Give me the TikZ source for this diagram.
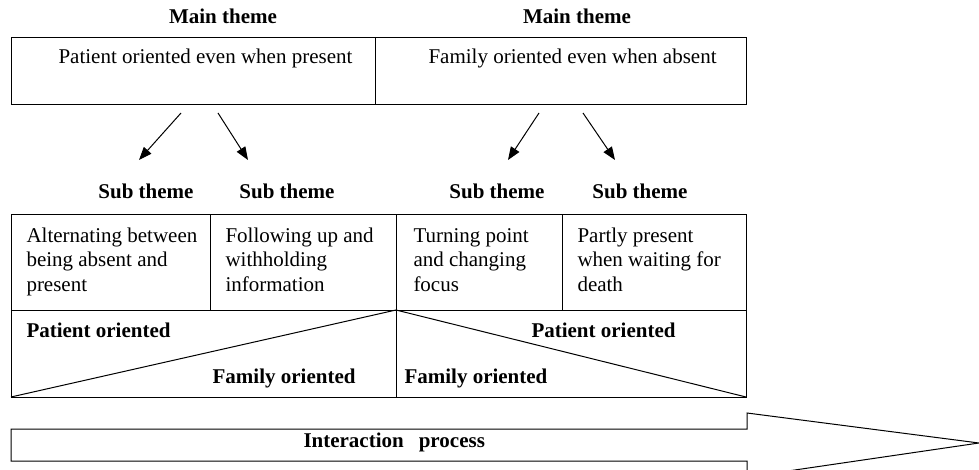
\documentclass[tikz,border=0pt]{standalone}
\usepackage{fontspec}
\setmainfont{Liberation Serif}
\usetikzlibrary{arrows.meta}
\begin{document}
\begin{tikzpicture}[x=1pt,y=-1pt,line width=1pt,
  txt/.style={inner sep=0pt,font=\fontsize{21}{24.5}\selectfont},
  btxt/.style={inner sep=0pt,font=\fontsize{21}{24.5}\selectfont\bfseries},
  cell/.style={inner sep=0pt,align=left,font=\fontsize{21}{24.5}\selectfont},
  arr/.style={-{Triangle[length=13pt,width=10pt]},line width=1pt}]
\clip (0,0) rectangle (979,470);
\fill[white] (0,0) rectangle (979,470);
% main themes
\node[btxt,anchor=base] (mt1) at (223,24) {Main theme};
\node[btxt,anchor=base] (mt2) at (577,24) {Main theme};
\draw (11,38) rectangle (746,105);
\draw (375,38) -- (375,105);
\node[txt,anchor=base west] (m1) at (58,64) {Patient oriented even when present};
\node[txt,anchor=base west] (m2) at (428,64) {Family oriented even when absent};
% arrows
\coordinate (a1s) at (181,113); \coordinate (a1e) at (139,160);
\coordinate (a2s) at (218,113); \coordinate (a2e) at (248,160);
\coordinate (a3s) at (539,113); \coordinate (a3e) at (508,160);
\coordinate (a4s) at (583,113); \coordinate (a4e) at (615,160);
\draw[arr] (a1s) -- (a1e);
\draw[arr] (a2s) -- (a2e);
\draw[arr] (a3s) -- (a3e);
\draw[arr] (a4s) -- (a4e);
% sub themes
\node[btxt,anchor=base] (s1) at (146,199) {Sub theme};
\node[btxt,anchor=base] (s2) at (287,199) {Sub theme};
\node[btxt,anchor=base] (s3) at (497,199) {Sub theme};
\node[btxt,anchor=base] (s4) at (640,199) {Sub theme};
\draw (11,215) rectangle (746,397);
\draw (11,310) -- (746,310);
\draw (210,215) -- (210,310);
\draw (396,215) -- (396,397);
\draw (562,215) -- (562,310);
\node[cell,anchor=base west] (c1) at (26,291) {Alternating between\\being absent and\\present};
\node[cell,anchor=base west] (c2) at (225,291) {Following up and\\withholding\\information};
\node[cell,anchor=base west] (c3) at (413,291) {Turning point\\and changing\\focus};
\node[cell,anchor=base west] (c4) at (577,291) {Partly present\\when waiting for\\death};
% orientation triangles
\draw (11,397) -- (396,310) -- (746,397);
\node[btxt,anchor=base west] (p1) at (26,337) {Patient oriented};
\node[btxt,anchor=base east] (f1) at (356,383) {Family oriented};
\node[btxt,anchor=base west] (f2) at (404,383) {Family oriented};
\node[btxt,anchor=base west] (p2) at (531,337) {Patient oriented};
% interaction process arrow
\draw[line join=miter] (11,429) -- (747,429) -- (747,413) -- (979,443) -- (747,477) -- (747,461) -- (11,461) -- cycle;
\node[btxt,anchor=base west] (ip) at (303,447) {Interaction\hspace{15pt}process};
\end{tikzpicture}
\end{document}
